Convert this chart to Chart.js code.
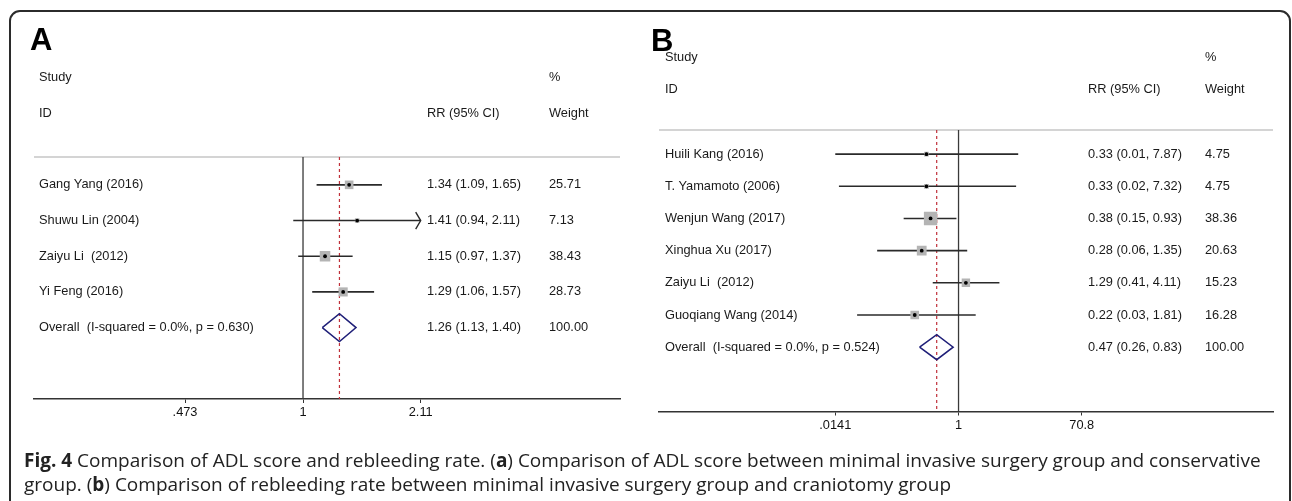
<!DOCTYPE html>
<html>
<head>
<meta charset="utf-8">
<script src="https://cdn.jsdelivr.net/npm/chart.js@4.4.0/dist/chart.umd.min.js"></script>
<style>
  html, body { margin: 0; padding: 0; background: #fff; }
  #page { position: relative; width: 1292px; height: 501px; overflow: hidden; }
  .frame { position: absolute; left: 9px; top: 10px; width: 1278px; height: 620px; border: 2px solid #2b2b2b; border-radius: 11px; }
  canvas { position: absolute; top: 0; }
  .letter { position: absolute; font: bold 31px "Liberation Sans", Arial, sans-serif; line-height: 32px; color: #000; }
  .caption { position: absolute; left: 24px; top: 448px; font: 19px "Open Sans", sans-serif; line-height: 24px; color: #222; white-space: nowrap; }
  .caption b { font-weight: 700; }
</style>
</head>
<body>
<div id="page">
  <div class="frame"></div>
  <canvas id="chartA" width="640" height="450" style="left:0"></canvas>
  <canvas id="chartB" width="652" height="450" style="left:640px"></canvas>
  <div class="letter" style="left:30px; top:24px">A</div>
  <div class="letter" style="left:651px; top:25px">B</div>
  <div class="caption"><b>Fig. 4</b> Comparison of ADL score and rebleeding rate. (<b>a</b>) Comparison of ADL score between minimal invasive surgery group and conservative<br>group. (<b>b</b>) Comparison of rebleeding rate between minimal invasive surgery group and craniotomy group</div>
</div>

<script>
// panel A - ADL score
const studiesA = ["Gang Yang (2016)", "Shuwu Lin (2004)", "Zaiyu Li  (2012)", "Yi Feng (2016)"];
const rrA = [1.34, 1.41, 1.15, 1.29];
const loA = [1.09, 0.94, 0.97, 1.06];
const hiA = [1.65, 2.114, 1.37, 1.57];
const weightA = [25.71, 7.13, 38.43, 28.73];
const overallA = [1.26, 1.13, 1.40]; // est, lo, hi
const overallLabelA = "Overall  (I-squared = 0.0%, p = 0.630)";
const ticksA = [0.473, 1, 2.11];
const tickLabelsA = [".473", "1", "2.11"];

// panel B - rebleeding rate
const studiesB = ["Huili Kang (2016)", "T. Yamamoto (2006)", "Wenjun Wang (2017)", "Xinghua Xu (2017)", "Zaiyu Li  (2012)", "Guoqiang Wang (2014)"];
const rrB = [0.33, 0.33, 0.38, 0.28, 1.29, 0.22];
const loB = [0.0141, 0.016, 0.15, 0.06, 0.41, 0.03];
const hiB = [7.87, 7.32, 0.93, 1.35, 4.11, 1.81];
const weightB = [4.75, 4.75, 38.36, 20.63, 15.23, 16.28];
const overallB = [0.47, 0.26, 0.83];
const overallLabelB = "Overall  (I-squared = 0.0%, p = 0.524)";
const ticksB = [0.0141, 1, 70.8];
const tickLabelsB = [".0141", "1", "70.8"];

const TEXT_FONT = '12.8px "Liberation Sans", Arial, sans-serif';

const fmt = (v) => v.toFixed(2);

const forestText = {
  id: "forestText",
  beforeDatasetsDraw(chart, args, opts) {
    const { ctx, chartArea } = chart;
    // grey rule under the header
    ctx.save();
    ctx.strokeStyle = "#c6c6c6";
    ctx.lineWidth = 1.5;
    ctx.beginPath();
    ctx.moveTo(chartArea.left, chartArea.top);
    ctx.lineTo(chartArea.right, chartArea.top);
    ctx.stroke();
    ctx.restore();
  },
  afterDraw(chart, args, opts) {
    const { ctx } = chart;
    const xs = chart.scales.x, ys = chart.scales.y;
    const c = opts.cols;
    ctx.save();
    ctx.font = TEXT_FONT;
    ctx.fillStyle = "#1a1a1a";
    ctx.textBaseline = "middle";
    ctx.textAlign = "left";

    // headers
    ctx.fillText("Study", c.label, ys.getPixelForValue(-3));
    ctx.fillText("%", c.weight, ys.getPixelForValue(-3));
    ctx.fillText("ID", c.label, ys.getPixelForValue(-2));
    ctx.fillText("RR (95% CI)", c.rr, ys.getPixelForValue(-2));
    ctx.fillText("Weight", c.weight, ys.getPixelForValue(-2));

    opts.studies.forEach((s, i) => {
      const y = ys.getPixelForValue(i);
      ctx.fillText(s, c.label, y);
      ctx.fillText(fmt(opts.rr[i]) + " (" + fmt(opts.lo[i]) + ", " + fmt(opts.hi[i]) + ")", c.rr, y);
      ctx.fillText(fmt(opts.weight[i]), c.weight, y);
    });
    const n = opts.studies.length;
    const yo = ys.getPixelForValue(n);
    ctx.fillText(opts.overallLabel, c.label, yo);
    ctx.fillText(fmt(opts.overall[0]) + " (" + fmt(opts.overall[1]) + ", " + fmt(opts.overall[2]) + ")", c.rr, yo);
    ctx.fillText("100.00", c.weight, yo);

    // arrows where a CI runs past the plotted range
    const tMin = opts.ticks[0], tMax = opts.ticks[opts.ticks.length - 1];
    ctx.strokeStyle = "#2a2a2a";
    ctx.lineWidth = 1.4;
    opts.studies.forEach((s, i) => {
      const y = ys.getPixelForValue(i);
      if (opts.hi[i] > tMax) {
        const x = xs.getPixelForValue(tMax);
        ctx.beginPath();
        ctx.moveTo(x - 5, y - 8.5);
        ctx.lineTo(x, y);
        ctx.lineTo(x - 5, y + 8.5);
        ctx.stroke();
      }
      if (opts.lo[i] < tMin) {
        const x = xs.getPixelForValue(tMin);
        ctx.beginPath();
        ctx.moveTo(x + 5, y - 8.5);
        ctx.lineTo(x, y);
        ctx.lineTo(x + 5, y + 8.5);
        ctx.stroke();
      }
    });
    ctx.restore();
  }
};

function forestChart(id, p) {
  const n = p.studies.length;
  const tMin = p.ticks[0], tMax = p.ticks[p.ticks.length - 1];
  const pts = p.rr.map((v, i) => ({ x: v, y: i }));

  const ciSets = p.studies.map((s, i) => ({
    data: [{ x: Math.max(p.lo[i], tMin), y: i }, { x: Math.min(p.hi[i], tMax), y: i }],
    showLine: true,
    borderColor: "#2a2a2a",
    borderWidth: 1.6,
    pointRadius: 0,
    order: 3
  }));

  const datasets = [
    // no-effect line
    {
      data: [{ x: 1, y: p.yMin }, { x: 1, y: p.yMax }],
      showLine: true, borderColor: "#3a3a3a", borderWidth: 1.3, pointRadius: 0, order: 6
    },
    // pooled estimate line
    {
      data: [{ x: p.overall[0], y: p.yMin }, { x: p.overall[0], y: p.yMax }],
      showLine: true, borderColor: "#c0303a", borderWidth: 1.2, borderDash: [3, 3], pointRadius: 0, order: 5
    },
    ...ciSets,
    // weight boxes
    {
      data: pts,
      pointStyle: "rect",
      pointRadius: p.weight.map((w) => (p.boxScale * Math.sqrt(w)) / Math.SQRT2),
      backgroundColor: "#b4b4b4",
      borderWidth: 0,
      order: 2
    },
    // centre dots
    {
      data: pts,
      pointStyle: "circle",
      pointRadius: 1.9,
      backgroundColor: "#000",
      borderWidth: 0,
      order: 1
    },
    // pooled diamond
    {
      data: [
        { x: p.overall[1], y: n },
        { x: p.overall[0], y: n - 0.39 },
        { x: p.overall[2], y: n },
        { x: p.overall[0], y: n + 0.39 },
        { x: p.overall[1], y: n }
      ],
      showLine: true, borderColor: "#1f1f78", borderWidth: 1.5, pointRadius: 0, tension: 0, order: 1
    }
  ];

  return new Chart(document.getElementById(id), {
    type: "scatter",
    data: { datasets },
    options: {
      responsive: false,
      animation: false,
      devicePixelRatio: 1,
      layout: { padding: p.padding },
      plugins: {
        legend: { display: false },
        tooltip: { enabled: false },
        forestText: p
      },
      scales: {
        x: {
          type: "logarithmic",
          min: p.xMin,
          max: p.xMax,
          bounds: "data",
          afterBuildTicks: (scale) => {
            scale.ticks = p.ticks.map((v) => ({ value: v }));
          },
          afterFit: (scale) => {
            scale.height = 30;
          },
          border: { display: true, color: "#333", width: 1.5 },
          grid: { drawOnChartArea: false, drawTicks: true, tickLength: 4, color: "#333", lineWidth: 1 },
          ticks: {
            callback: (v, i) => p.tickLabels[i],
            color: "#111",
            font: { family: "Liberation Sans", size: 12.8 },
            padding: 2,
            maxRotation: 0,
            autoSkip: false
          }
        },
        y: { type: "linear", reverse: true, min: p.yMin, max: p.yMax, display: false }
      }
    },
    plugins: [forestText]
  });
}

forestChart("chartA", {
  studies: studiesA, rr: rrA, lo: loA, hi: hiA, weight: weightA,
  overall: overallA, overallLabel: overallLabelA,
  ticks: ticksA, tickLabels: tickLabelsA,
  xMin: 0.1814, xMax: 7.474, yMin: -0.78, yMax: 6,
  padding: { left: 34, right: 20, top: 157, bottom: 21 },
  cols: { label: 39, rr: 427, weight: 549 },
  boxScale: 1.7
});

forestChart("chartB", {
  studies: studiesB, rr: rrB, lo: loB, hi: hiB, weight: weightB,
  overall: overallB, overallLabel: overallLabelB,
  ticks: ticksB, tickLabels: tickLabelsB,
  xMin: 3.18e-5, xMax: 52700, yMin: -0.75, yMax: 8,
  padding: { left: 19, right: 19, top: 130, bottom: 8.5 },
  cols: { label: 25, rr: 448, weight: 565 },
  boxScale: 2.15
});
</script>
</body>
</html>
